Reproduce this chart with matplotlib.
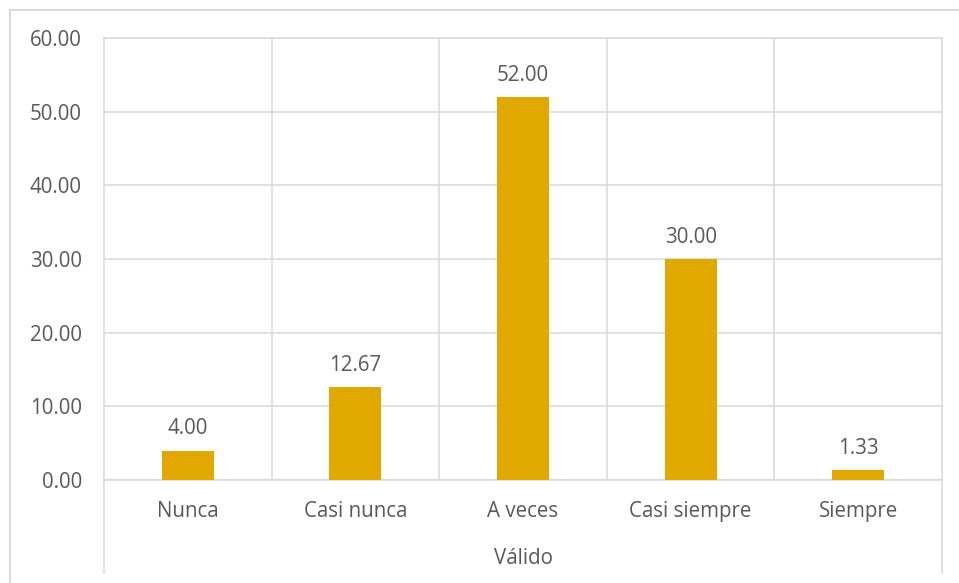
import matplotlib
matplotlib.use("Agg")
import matplotlib.pyplot as plt
from matplotlib.lines import Line2D
from matplotlib.ticker import MultipleLocator, FixedLocator

categories = ["Nunca", "Casi nunca", "A veces", "Casi siempre", "Siempre"]
values = [4.00, 12.67, 52.00, 30.00, 1.33]
axis_title = "Válido"

W, H = 959, 583
fig = plt.figure(figsize=(W / 100, H / 100), dpi=100)
plt.rcParams['font.family'] = ['Open Sans', 'DejaVu Sans']

grid_c = '#D9D9D9'
text_c = '#595959'
bar_c = '#E0A800'
fs = 14.8

L, R, T, B = 104, 942, 38, 480
ax = fig.add_axes([L / W, 1 - B / H, (R - L) / W, (B - T) / H])
x = list(range(len(categories)))
ax.bar(x, values, width=0.31, color=bar_c, zorder=3)
ax.set_xlim(-0.5, len(categories) - 0.5)
ax.set_ylim(0, 60)
ax.yaxis.set_major_locator(MultipleLocator(10))
ax.yaxis.set_major_formatter(matplotlib.ticker.FormatStrFormatter('%.2f'))
ax.set_xticks(x)
ax.set_xticklabels(categories)
ax.xaxis.set_minor_locator(FixedLocator([i + 0.5 for i in range(len(categories) - 1)]))
ax.grid(axis='y', which='major', color=grid_c, linewidth=1.1, zorder=0)
ax.grid(axis='x', which='minor', color=grid_c, linewidth=1.1, zorder=0)
ax.tick_params(axis='both', which='both', length=0, colors=text_c, labelsize=fs)
ax.tick_params(axis='x', pad=15)
ax.tick_params(axis='y', pad=16)
for s in ax.spines.values():
    s.set_color(grid_c)
    s.set_linewidth(1.1)

for xi, v in zip(x, values):
    ax.annotate(f"{v:.2f}", (xi, v), xytext=(0, 8), textcoords='offset points',
                ha='center', va='bottom', color=text_c, fontsize=fs)

# multi-level category axis outer lines
for px in (L, R):
    fig.add_artist(Line2D([px / W, px / W], [1 - B / H, 1 - 573 / H], color=grid_c, linewidth=1.1))
fig.text((L + R) / 2 / W, 1 - 558 / H, axis_title, ha='center', va='center', color=text_c, fontsize=fs)

# outer chart border
fig.add_artist(Line2D([10 / W, 1.0], [1 - 10 / H, 1 - 10 / H], color=grid_c, linewidth=1.5))
fig.add_artist(Line2D([10 / W, 10 / W], [1 - 10 / H, 0], color=grid_c, linewidth=1.5))

fig.savefig("out.png", dpi=100)
